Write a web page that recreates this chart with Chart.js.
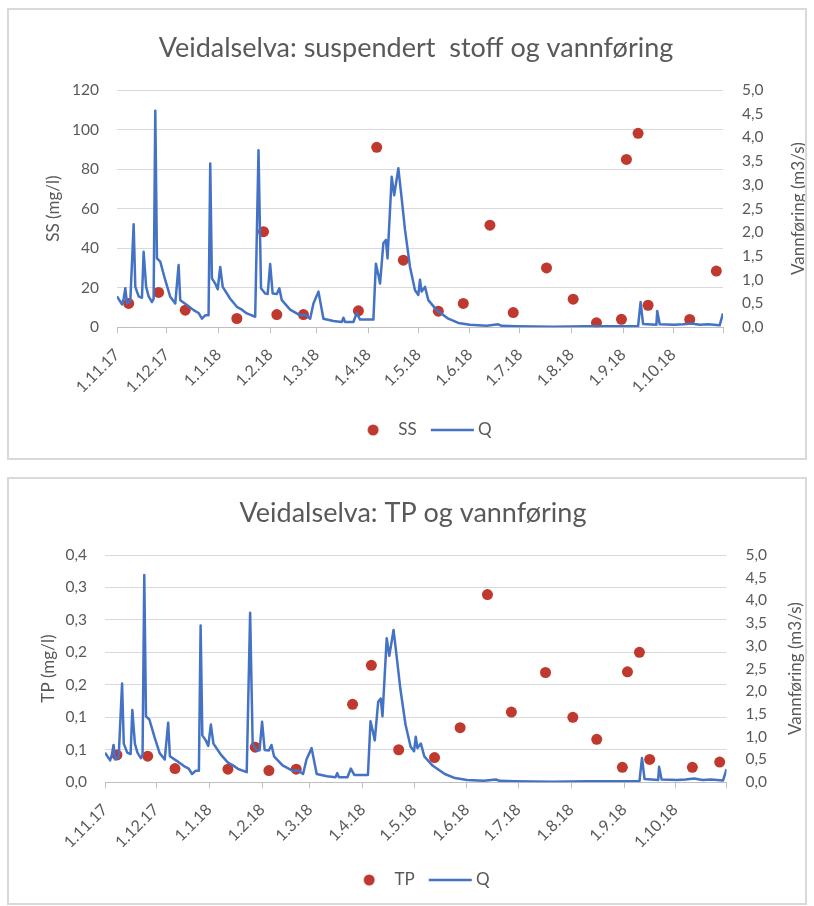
<!DOCTYPE html>
<html>
<head>
<meta charset="utf-8">
<script src="https://cdn.jsdelivr.net/npm/chart.js@4.4.1/dist/chart.umd.min.js"></script>
<style>
  html, body { margin: 0; padding: 0; background: #fff; }
  body { width: 814px; height: 906px; position: relative; overflow: hidden; }
  .box { position: absolute; left: 7px; width: 796px; border: 2px solid #d9d9d9; background: #fff; }
  #boxSS { top: 8px; height: 448px; }
  #boxTP { top: 477px; height: 424px; }
  .box canvas { display: block; }
</style>
</head>
<body>
<div class="box" id="boxSS"><canvas id="chartSS" width="796" height="448"></canvas></div>
<div class="box" id="boxTP"><canvas id="chartTP" width="796" height="424"></canvas></div>
<script>
// Month tick labels along the date axis (first day of each month)
const monthLabels = ['1.11.17', '1.12.17', '1.1.18', '1.2.18', '1.3.18', '1.4.18',
                     '1.5.18', '1.6.18', '1.7.18', '1.8.18', '1.9.18', '1.10.18'];
const monthStarts = ['2017-11-01', '2017-12-01', '2018-01-01', '2018-02-01', '2018-03-01', '2018-04-01',
                     '2018-05-01', '2018-06-01', '2018-07-01', '2018-08-01', '2018-09-01', '2018-10-01'];
const periodEnd = '2018-10-31';

// Sampling dates for the water chemistry samples
const sampleDates = ['2017-11-08', '2017-11-26', '2017-12-12', '2018-01-12', '2018-01-28', '2018-02-05',
                     '2018-02-21', '2018-03-26', '2018-04-06', '2018-04-22', '2018-05-13', '2018-05-28',
                     '2018-06-13', '2018-06-27', '2018-07-17', '2018-08-02', '2018-08-16', '2018-08-31',
                     '2018-09-03', '2018-09-10', '2018-09-16', '2018-10-11', '2018-10-27'];
// Suspended solids, mg/l
const ssValues = [12.0, 17.6, 8.6, 4.4, 48.3, 6.4, 6.4, 8.3, 91.0, 33.9, 8.1, 12.0,
                  51.6, 7.4, 30.0, 14.2, 2.2, 4.0, 84.9, 98.1, 11.1, 3.9, 28.4];
// Total phosphorus, mg/l
const tpValues = [0.042, 0.040, 0.021, 0.020, 0.054, 0.018, 0.020, 0.120, 0.180, 0.050, 0.038, 0.084,
                  0.289, 0.108, 0.169, 0.100, 0.066, 0.023, 0.170, 0.200, 0.035, 0.023, 0.031];

// Discharge Q (m3/s), days counted from 1.11.17
const flowDays = [0, 3, 4, 5, 6, 8, 10, 11, 13, 15, 16, 17.5, 19, 21, 22, 23, 24, 26, 29, 32, 35, 37, 38,
                  42, 46, 49, 51, 53, 55, 56, 57, 59, 60.5, 62, 63.5, 68, 72, 75, 78, 83, 85, 86.5, 89,
                  90.5, 92, 93.5, 96, 97.5, 99, 104, 110, 113, 116, 118, 121, 124, 130, 135, 136, 137,
                  142, 144, 146, 154, 155.5, 157, 158, 160, 161.5, 162.5, 165, 166.5, 169, 171, 173,
                  176, 179, 181, 182, 183, 185, 187, 192, 199, 205, 212, 222, 229, 231, 240, 262, 282,
                  300, 313, 314.5, 316, 324, 324.5, 326, 335, 340, 345, 350, 355, 362, 364];
const flowValues = [0.65, 0.48, 0.60, 0.82, 0.50, 0.55, 2.17, 0.85, 0.65, 0.62, 1.59, 0.85, 0.65, 0.53,
                    0.60, 4.56, 1.45, 1.38, 0.99, 0.64, 0.50, 1.31, 0.57, 0.47, 0.36, 0.30, 0.18, 0.25,
                    0.25, 3.45, 1.03, 0.92, 0.80, 1.27, 0.85, 0.60, 0.43, 0.37, 0.29, 0.22, 3.73, 0.82,
                    0.71, 0.70, 1.33, 0.71, 0.70, 0.82, 0.57, 0.37, 0.25, 0.26, 0.18, 0.50, 0.75, 0.18,
                    0.13, 0.11, 0.20, 0.11, 0.11, 0.30, 0.16, 0.16, 1.34, 1.10, 0.92, 1.77, 1.84, 1.45,
                    3.17, 2.78, 3.35, 2.71, 2.05, 1.27, 0.78, 0.68, 1.00, 0.75, 0.85, 0.57, 0.36, 0.18,
                    0.09, 0.05, 0.03, 0.06, 0.03, 0.02, 0.01, 0.02, 0.02, 0.02, 0.53, 0.07, 0.05, 0.34,
                    0.06, 0.05, 0.06, 0.08, 0.05, 0.06, 0.04, 0.29];

// Axis ticks and labels
const ssTicks = [0, 20, 40, 60, 80, 100, 120];
const ssTickLabels = ['0', '20', '40', '60', '80', '100', '120'];
const tpTicks = [0, 0.05, 0.10, 0.15, 0.20, 0.25, 0.30, 0.35];
const tpTickLabels = ['0,0', '0,1', '0,1', '0,2', '0,2', '0,3', '0,3', '0,4'];
const flowTicks = [0, 0.5, 1, 1.5, 2, 2.5, 3, 3.5, 4, 4.5, 5];
const flowTickLabels = ['0,0', '0,5', '1,0', '1,5', '2,0', '2,5', '3,0', '3,5', '4,0', '4,5', '5,0'];

const FONT = 'Lato, "Open Sans", sans-serif';
const TEXT = '#595959';
const RED = '#c0392f';
const BLUE = '#4472c4';
const GRID = '#d9d9d9';

const DAY = 86400000;
const origin = Date.parse(monthStarts[0]);
const toDay = s => Math.round((Date.parse(s) - origin) / DAY);
const tickDays = monthStarts.map(toDay).concat([toDay(periodEnd)]);
const sampleDays = sampleDates.map(toDay);

// Small bitmaps used as legend markers
function legendDot(width, cx) {
  const c = document.createElement('canvas');
  c.width = width; c.height = 14;
  const g = c.getContext('2d');
  g.fillStyle = RED;
  g.beginPath(); g.arc(cx, 7, 5.5, 0, Math.PI * 2); g.fill();
  return c;
}
function legendLine(width, x0, x1) {
  const c = document.createElement('canvas');
  c.width = width; c.height = 6;
  const g = c.getContext('2d');
  g.strokeStyle = BLUE; g.lineWidth = 2.5;
  g.beginPath(); g.moveTo(x0, 3); g.lineTo(x1, 3); g.stroke();
  return c;
}

// Right-hand axis title, written bottom-to-top like the left one
const rightAxisTitle = {
  id: 'rightAxisTitle',
  afterDraw(chart, args, opts) {
    const { ctx, chartArea } = chart;
    ctx.save();
    ctx.translate(opts.x, (chartArea.top + chartArea.bottom) / 2);
    ctx.rotate(-Math.PI / 2);
    ctx.font = '17px ' + FONT;
    ctx.fillStyle = TEXT;
    ctx.textAlign = 'center';
    ctx.textBaseline = 'middle';
    ctx.fillText(opts.text, 0, 0);
    ctx.restore();
  }
};

function buildChart(id, cfg) {
  const samples = sampleDays.map((d, i) => ({ x: d, y: cfg.values[i] }));
  const flow = flowDays.map((d, i) => ({ x: d, y: flowValues[i] }));
  const marks = [legendDot(cfg.dotW, cfg.dotX), legendLine(cfg.lineW, cfg.lineX0, cfg.lineX1)];
  return new Chart(document.getElementById(id), {
    type: 'scatter',
    data: {
      datasets: [
        { label: cfg.label, data: samples, yAxisID: 'y', order: 2,
          backgroundColor: RED, borderColor: RED, borderWidth: 0,
          pointRadius: 5.5, pointHoverRadius: 5.5 },
        { type: 'line', label: 'Q', data: flow, yAxisID: 'y2', order: 1,
          borderColor: BLUE, backgroundColor: BLUE, borderWidth: 2.5,
          pointRadius: 0, pointHoverRadius: 0, tension: 0, fill: false,
          borderJoinStyle: 'round', showLine: true }
      ]
    },
    plugins: [rightAxisTitle],
    options: {
      responsive: false,
      animation: false,
      events: [],
      layout: { padding: { left: cfg.padLeft, right: 0, top: 0, bottom: cfg.padBottom } },
      plugins: {
        title: {
          display: true, text: cfg.title, color: TEXT,
          font: { family: FONT, size: 27, weight: 'normal' },
          padding: { top: cfg.titleTop, bottom: cfg.titleBottom }
        },
        legend: {
          position: 'bottom',
          labels: {
            usePointStyle: true, pointStyleWidth: cfg.legendBox, padding: cfg.legendPad,
            color: TEXT, font: { family: FONT, size: 17 },
            sort: (a, b) => a.datasetIndex - b.datasetIndex,
            generateLabels(chart) {
              const items = Chart.defaults.plugins.legend.labels.generateLabels(chart);
              items.forEach(it => { it.pointStyle = marks[it.datasetIndex]; });
              return items;
            }
          }
        },
        tooltip: { enabled: false },
        rightAxisTitle: { text: 'Vannføring (m3/s)', x: cfg.rightTitleX }
      },
      scales: {
        x: {
          type: 'linear', min: tickDays[0], max: tickDays[tickDays.length - 1],
          afterBuildTicks: s => { s.ticks = tickDays.map(v => ({ value: v })); },
          afterFit: s => { s.height = cfg.xHeight; },
          grid: { drawOnChartArea: false, drawTicks: true, tickLength: 6, color: '#bfbfbf', lineWidth: 1 },
          border: { display: true, color: '#bfbfbf', width: 1 },
          ticks: {
            autoSkip: false, minRotation: 45, maxRotation: 45, padding: 12,
            color: TEXT, font: { family: FONT, size: 16 },
            callback: (v, i) => (i < monthLabels.length ? monthLabels[i] : '')
          }
        },
        y: {
          position: 'left', min: 0, max: cfg.leftTicks[cfg.leftTicks.length - 1],
          afterBuildTicks: s => { s.ticks = cfg.leftTicks.map(v => ({ value: v })); },
          afterFit: s => { s.width = cfg.leftWidth; },
          grid: { color: GRID, lineWidth: 1, drawTicks: false },
          border: { display: false },
          ticks: {
            padding: 18, color: TEXT, font: { family: FONT, size: 15.5 },
            callback: (v, i) => cfg.leftLabels[i]
          },
          title: {
            display: true, text: cfg.leftTitle, color: TEXT,
            font: { family: FONT, size: 17 }, padding: { top: cfg.leftTitlePad, bottom: 0 }
          }
        },
        y2: {
          position: 'right', min: 0, max: 5,
          afterBuildTicks: s => { s.ticks = flowTicks.map(v => ({ value: v })); },
          afterFit: s => { s.width = cfg.rightWidth; },
          grid: { drawOnChartArea: false, drawTicks: false },
          border: { display: false },
          ticks: {
            padding: 19, color: TEXT, font: { family: FONT, size: 15.5 },
            callback: (v, i) => flowTickLabels[i]
          }
        }
      }
    }
  });
}

buildChart('chartSS', {
  title: 'Veidalselva: suspendert  stoff og vannføring',
  label: 'SS', values: ssValues,
  leftTicks: ssTicks, leftLabels: ssTickLabels, leftTitle: 'SS (mg/l)',
  padLeft: 18, leftWidth: 90, leftTitlePad: 16, rightWidth: 82, rightTitleX: 790,
  titleTop: 21.8, titleBottom: 25.8,
  xHeight: 91, padBottom: 9.5,
  legendBox: 49.5, legendPad: 3.3,
  dotW: 30, dotX: 23, lineW: 60, lineX0: 16, lineX1: 59
});

buildChart('chartTP', {
  title: 'Veidalselva: TP og vannføring',
  label: 'TP', values: tpValues,
  leftTicks: tpTicks, leftLabels: tpTickLabels, leftTitle: 'TP (mg/l)',
  padLeft: 12, leftWidth: 84, leftTitlePad: 17, rightWidth: 78.5, rightTitleX: 787,
  titleTop: 17.8, titleBottom: 25.8,
  xHeight: 86, padBottom: 4.5,
  legendBox: 49.5, legendPad: 3.3,
  dotW: 30, dotX: 23, lineW: 60, lineX0: 16, lineX1: 59
});
</script>
</body>
</html>
